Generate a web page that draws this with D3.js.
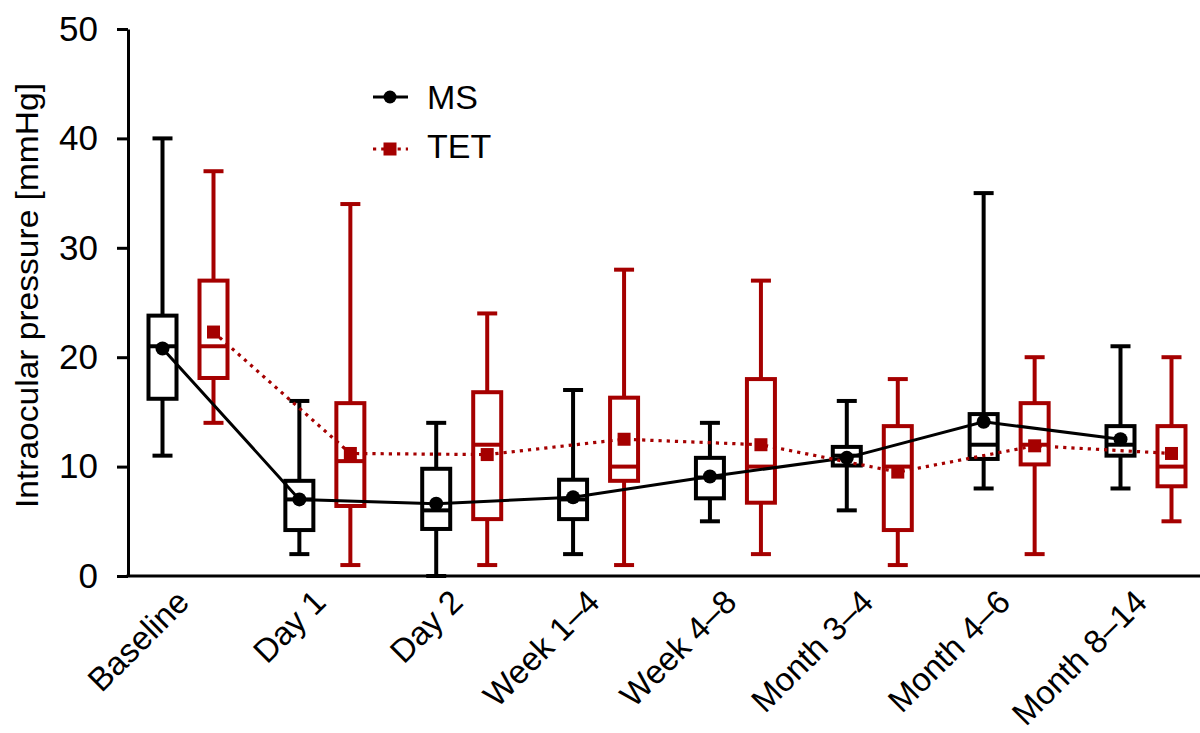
<!DOCTYPE html>
<html>
<head>
<meta charset="utf-8">
<script src="https://cdn.jsdelivr.net/npm/d3@7"></script>
<style>
  body { margin: 0; background: #fff; }
  text { font-family: "Liberation Sans", Arial, sans-serif; fill: #000; }
</style>
</head>
<body>
<div id="chart"></div>
<script>
// categories and box statistics
var categories = ["Baseline", "Day 1", "Day 2", "Week 1\u20134", "Week 4\u20138", "Month 3\u20134", "Month 4\u20136", "Month 8\u201314"];
var yTicks = [0, 10, 20, 30, 40, 50];

// MS: min, q1, median, q3, max, mean
var msMin    = [11, 2, 0, 2, 5, 6, 8, 8];
var msQ1     = [16.2, 4.2, 4.3, 5.2, 7.1, 10.1, 10.7, 11];
var msMedian = [21, 7, 6, 7, 9, 11, 12, 12];
var msQ3     = [23.8, 8.7, 9.8, 8.8, 10.8, 11.8, 14.8, 13.7];
var msMax    = [40, 16, 14, 17, 14, 16, 35, 21];
var msMean   = [20.8, 7.0, 6.6, 7.2, 9.1, 10.8, 14.1, 12.5];

// TET
var tetMin    = [14, 1, 1, 1, 2, 1, 2, 5];
var tetQ1     = [18.1, 6.4, 5.2, 8.7, 6.7, 4.2, 10.2, 8.2];
var tetMedian = [21, 10.5, 12, 10, 10, 10, 12, 10];
var tetQ3     = [27, 15.8, 16.8, 16.3, 18, 13.7, 15.8, 13.7];
var tetMax    = [37, 34, 24, 28, 27, 18, 20, 20];
var tetMean   = [22.3, 11.2, 11.1, 12.5, 12, 9.5, 11.9, 11.2];

var width = 1200, height = 733;
var red = "#a50000";
var boxW = 28, capW = 20, off = 25.5, sw = 4;

var svg = d3.select("#chart").append("svg")
    .attr("width", width)
    .attr("height", height);

var x = d3.scalePoint().domain(categories).range([188, 1146]);
var y = d3.scaleLinear().domain([0, 50]).range([576, 29]);

function rows(mn, q1, md, q3, mx, mean) {
  return categories.map(function (c, i) {
    return { cat: c, min: mn[i], q1: q1[i], med: md[i], q3: q3[i], max: mx[i], mean: mean[i] };
  });
}
var series = [
  { name: "MS", color: "#000", dx: -off, data: rows(msMin, msQ1, msMedian, msQ3, msMax, msMean) },
  { name: "TET", color: red, dx: off, data: rows(tetMin, tetQ1, tetMedian, tetQ3, tetMax, tetMean) }
];

// boxes
series.forEach(function (s) {
  var g = svg.append("g").attr("stroke", s.color).attr("stroke-width", sw).attr("fill", "none");
  var b = g.selectAll("g.box").data(s.data).enter().append("g").attr("class", "box")
      .attr("transform", function (d) { return "translate(" + (x(d.cat) + s.dx) + ",0)"; });
  b.append("line").attr("x1", 0).attr("x2", 0)
      .attr("y1", function (d) { return y(d.q3); }).attr("y2", function (d) { return y(d.max); });
  b.append("line").attr("x1", 0).attr("x2", 0)
      .attr("y1", function (d) { return y(d.q1); }).attr("y2", function (d) { return y(d.min); });
  b.append("line").attr("x1", -capW / 2).attr("x2", capW / 2)
      .attr("y1", function (d) { return y(d.max); }).attr("y2", function (d) { return y(d.max); });
  b.append("line").attr("x1", -capW / 2).attr("x2", capW / 2)
      .attr("y1", function (d) { return y(d.min); }).attr("y2", function (d) { return y(d.min); });
  b.append("rect").attr("x", -boxW / 2).attr("width", boxW)
      .attr("y", function (d) { return y(d.q3); })
      .attr("height", function (d) { return y(d.q1) - y(d.q3); });
  b.append("line").attr("x1", -boxW / 2).attr("x2", boxW / 2)
      .attr("y1", function (d) { return y(d.med); }).attr("y2", function (d) { return y(d.med); });
});

// axes
var yAxis = svg.append("g").attr("transform", "translate(128,0)")
    .call(d3.axisLeft(y).tickValues(yTicks).tickSize(11).tickPadding(19).tickSizeOuter(0));
yAxis.select(".domain").attr("stroke-width", 3);
yAxis.selectAll(".tick line").attr("stroke-width", 3);
yAxis.selectAll("text").style("font-size", "35px").attr("font-family", null);

svg.append("line").attr("x1", 126.5).attr("x2", 1200)
    .attr("y1", y(0)).attr("y2", y(0)).attr("stroke", "#000").attr("stroke-width", 3);

svg.selectAll(".xlab").data(categories).enter().append("text")
    .attr("class", "xlab")
    .attr("text-anchor", "end")
    .style("font-size", "33px")
    .attr("transform", function (d) { return "translate(" + (x(d) + 3) + ",604) rotate(-45)"; })
    .text(function (d) { return d; });

svg.append("text")
    .attr("text-anchor", "middle")
    .style("font-size", "32px")
    .attr("textLength", 425).attr("lengthAdjust", "spacingAndGlyphs")
    .attr("transform", "translate(38,295.5) rotate(-90)")
    .text("Intraocular pressure [mmHg]");

// mean lines
var line = d3.line()
    .x(function (d) { return x(d.cat); })
    .y(function (d) { return y(d.mean); });

svg.append("path").datum(series[0].data)
    .attr("fill", "none").attr("stroke", "#000").attr("stroke-width", 3)
    .attr("d", line.x(function (d) { return x(d.cat) - off; }));
svg.append("path").datum(series[1].data)
    .attr("fill", "none").attr("stroke", red).attr("stroke-width", 3.2)
    .attr("stroke-dasharray", "3.2,5")
    .attr("d", line.x(function (d) { return x(d.cat) + off; }));

svg.selectAll(".msdot").data(series[0].data).enter().append("circle")
    .attr("cx", function (d) { return x(d.cat) - off; })
    .attr("cy", function (d) { return y(d.mean); })
    .attr("r", 7).attr("fill", "#000");
svg.selectAll(".tetsq").data(series[1].data).enter().append("rect")
    .attr("x", function (d) { return x(d.cat) + off - 6.5; })
    .attr("y", function (d) { return y(d.mean) - 6.5; })
    .attr("width", 13).attr("height", 13).attr("fill", red);

// legend
var lg = svg.append("g");
lg.append("line").attr("x1", 373).attr("x2", 408).attr("y1", 97).attr("y2", 97)
    .attr("stroke", "#000").attr("stroke-width", 3);
lg.append("circle").attr("cx", 390).attr("cy", 97).attr("r", 6.5).attr("fill", "#000");
lg.append("text").attr("x", 427).attr("y", 109).style("font-size", "34px").text("MS");
lg.append("line").attr("x1", 373).attr("x2", 408).attr("y1", 149).attr("y2", 149)
    .attr("stroke", red).attr("stroke-width", 3.2).attr("stroke-dasharray", "3.2,5");
lg.append("rect").attr("x", 383.5).attr("y", 142.5).attr("width", 13).attr("height", 13).attr("fill", red);
lg.append("text").attr("x", 427).attr("y", 158).style("font-size", "34px").text("TET");
</script>
</body>
</html>
